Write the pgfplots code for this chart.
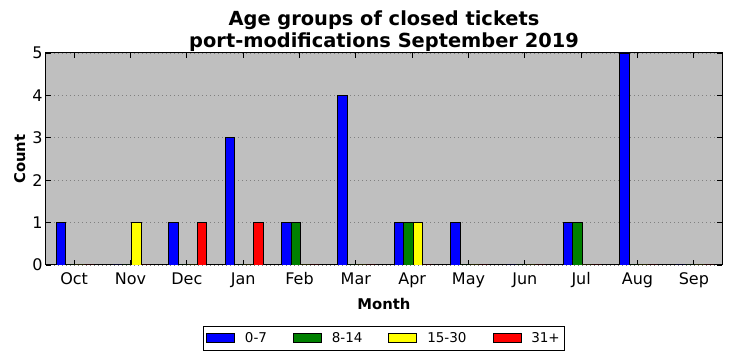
\documentclass[border=0pt]{standalone}
\usepackage{pgfplots}
\pgfplotsset{compat=1.18}
\usepackage{fontspec}
\setmainfont{DejaVu Sans}
\definecolor{bg}{RGB}{191,191,191}
\definecolor{mgreen}{RGB}{0,128,0}
\definecolor{myellow}{RGB}{255,255,0}
\begin{document}
\begin{tikzpicture}[x=1pt,y=1pt]
\begin{axis}[
  at={(46pt,96pt)}, anchor=south west,
  scale only axis, width=676pt, height=212pt,
  xmin=-0.5, xmax=11.5, ymin=0, ymax=5,
  xtick={0,...,11},
  xticklabels={Oct,Nov,Dec,Jan,Feb,Mar,Apr,May,Jun,Jul,Aug,Sep},
  ytick={0,...,5},
  /pgf/number format/assume math mode=true,
  tick align=inside, major tick length=5pt,
  tick style={black, line width=0.8pt},
  axis line style={line width=1pt},
  ymajorgrids, grid style={black!50, line width=0.6pt, dash pattern=on 1pt off 3pt},
  axis background/.style={fill=bg},
  tick label style={font=\fontsize{16}{16}\selectfont},
  xticklabel style={yshift=-4pt},
  xlabel={Month}, ylabel={Count},
  label style={font=\bfseries\fontsize{14.8}{15}\selectfont},
  xlabel style={yshift=-3pt},
  ylabel style={yshift=0pt},
  title={Age groups of closed tickets\\port-modifications September 2019},
  title style={font=\bfseries\fontsize{19.4}{22}\selectfont, align=center, yshift=-8pt},
  legend style={at={(0.5,-0.288)}, anchor=north, legend columns=4, draw=black, line width=0.8pt,
    fill=white, font=\fontsize{13.5}{13.5}\selectfont, inner xsep=3pt, inner ysep=4pt,
    /tikz/every odd column/.append style={column sep=8pt},
    /tikz/every even column/.append style={column sep=24pt}},
  legend image code/.code={\draw[#1, line width=0.8pt] (0pt,-4.5pt) rectangle (28pt,4.5pt);},
]
\addplot[ybar, bar width=0.168, bar shift=-0.235, fill=blue, draw=black, line width=0.8pt]
  coordinates {(0,1) (1,0) (2,1) (3,3) (4,1) (5,4) (6,1) (7,1) (8,0) (9,1) (10,5) (11,0)};
\addplot[ybar, bar width=0.168, bar shift=-0.067, fill=mgreen, draw=black, line width=0.8pt]
  coordinates {(0,0) (1,0) (2,0) (3,0) (4,1) (5,0) (6,1) (7,0) (8,0) (9,1) (10,0) (11,0)};
\addplot[ybar, bar width=0.168, bar shift=0.101, fill=myellow, draw=black, line width=0.8pt]
  coordinates {(0,0) (1,1) (2,0) (3,0) (4,0) (5,0) (6,1) (7,0) (8,0) (9,0) (10,0) (11,0)};
\addplot[ybar, bar width=0.168, bar shift=0.269, fill=red, draw=black, line width=0.8pt]
  coordinates {(0,0) (1,0) (2,1) (3,1) (4,0) (5,0) (6,0) (7,0) (8,0) (9,0) (10,0) (11,0)};
\legend{0-7,8-14,15-30,31+}
\end{axis}
\pgfresetboundingbox
\useasboundingbox (0,0) rectangle (732,361);
\end{tikzpicture}
\end{document}
